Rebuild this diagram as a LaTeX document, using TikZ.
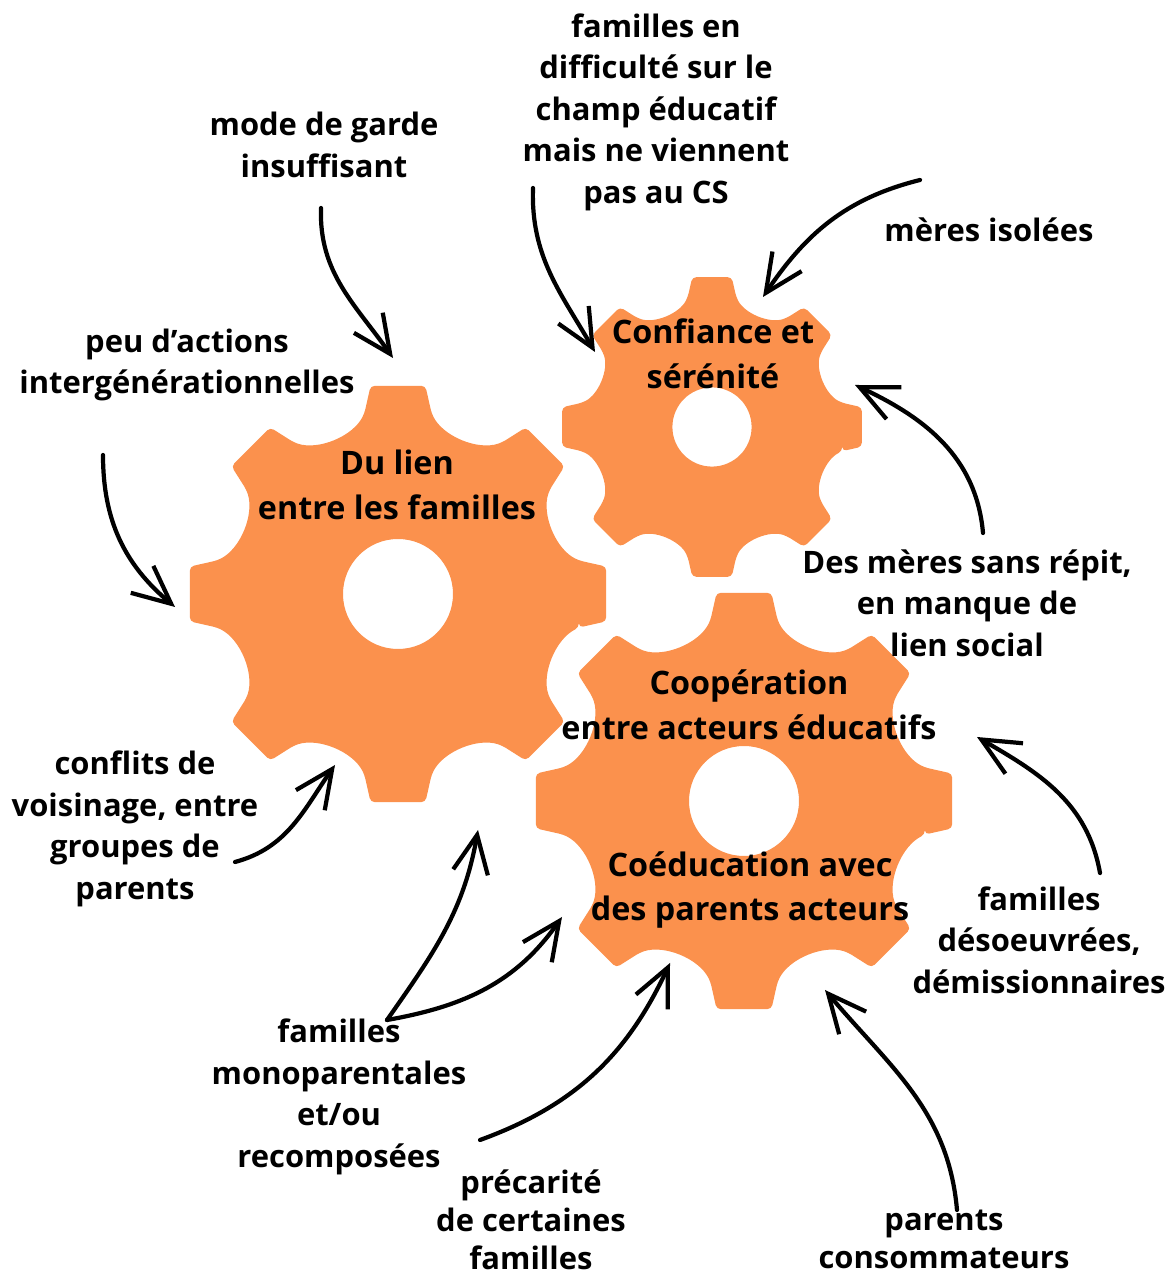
\documentclass[tikz,border=0pt]{standalone}
\usepackage{fontspec}
\setmainfont{Open Sans}
\usetikzlibrary{positioning,arrows.meta,calc}
\definecolor{gearorange}{HTML}{FB914D}
\tikzset{
    lbl/.style = {
        align=center,
        inner sep=0pt,
        font=\bfseries\fontsize{22}{29.5}\selectfont
    },
    gtext/.style = {
        lbl,
        font=\bfseries\fontsize{23}{32}\selectfont
    },
    curvy/.style = {
        -{Straight Barb[length=27pt,width=25pt]},
        line width=3pt,
        line cap=round
    },
    gear/.pic = {
        \fill[gearorange, even odd rule, rounded corners=3pt] (-10.5:184)
            \foreach \a in {0,45,...,315} {
                -- (\a-7.5:210) -- (\a+7.5:210) -- (\a+10.5:184)
                .. controls (\a+16:164) and (\a+29:164) .. (\a+34.5:184)
            } -- cycle
            (0,0) circle (55);
    }
}

\begin{document}
\begin{tikzpicture}[x=0.025cm, y=0.025cm]
            \useasboundingbox (0,0) rectangle (1165,1276);

            % gears
            \coordinate (g1) at (398,682);
            \coordinate (g2) at (712,849);
            \coordinate (g3) at (744,475);
            \pic at (g1) {gear};
            \pic[scale=0.72] at (g2) {gear};
            \pic at (g3) {gear};

            \node[gtext] (lien) at ($(g1)+(-1,109)$) {Du lien\\entre les familles};
            \node[gtext] (conf) at ($(g2)+(1,73)$) {Confiance et\\sérénité};
            \node[gtext] (coop) at ($(g3)+(5,96)$) {Coopération\\entre acteurs éducatifs};
            \node[gtext] (coeduc) at ($(g3)+(6,-89)$) {Coéducation avec\\des parents acteurs};

            % causes
            \node[lbl] (garde) at (324,1131) {mode de garde\\insuffisant};
            \node[lbl] (difficulte) at (656,1164) {familles en\\difficulté sur le\\champ éducatif\\mais ne viennent\\pas au CS};
            \node[lbl] (isolees) at (989,1046) {mères isolées};
            \node[lbl] (actions) at (187,911) {peu d’actions\\intergénérationnelles};
            \node[lbl] (repit) at (967,673) {Des mères sans répit,\\en manque de\\lien social};
            \node[lbl] (conflits) at (135,447) {conflits de\\voisinage, entre\\groupes de\\parents};
            \node[lbl] (desoeuvrees) at (1039,336) {familles\\désoeuvrées,\\démissionnaires};
            \node[lbl] (mono) at (339,179) {familles\\monoparentales\\et/ou\\recomposées};
            \node[lbl, font=\bfseries\fontsize{22}{27}\selectfont] (precarite) at (531,56) {précarité\\de certaines\\familles};
            \node[lbl, font=\bfseries\fontsize{22}{27}\selectfont] (consom) at (944,37) {parents\\consommateurs};

            % arrow tips
            \coordinate (t-garde) at (393,918);
            \coordinate (t-difficulte) at (595,924);
            \coordinate (t-isolees) at (763,979);
            \coordinate (t-actions) at (175,669);
            \coordinate (t-repit) at (855,891);
            \coordinate (t-desoeuvrees) at (977,539);
            \coordinate (t-consom) at (825,286);
            \coordinate (t-conflits) at (335,511);
            \coordinate (t-mono1) at (478,446);
            \coordinate (t-mono2) at (562,359);
            \coordinate (t-precarite) at (670,313);

            \draw[curvy] ($(garde)+(-3,-63)$) to[out=268,in=125] (t-garde);
            \draw[curvy] ($(difficulte)+(-123,-76)$) to[out=268,in=120] (t-difficulte);
            \draw[curvy] ($(isolees)+(-69,50)$) to[out=194,in=56] (t-isolees);
            \draw[curvy] ($(actions)+(-84,-90)$) to[out=270,in=140] (t-actions);
            \draw[curvy] ($(repit)+(16,70)$) to[out=95,in=-25] (t-repit);
            \draw[curvy] ($(desoeuvrees)+(61,67)$) to[out=100,in=-30] (t-desoeuvrees);
            \draw[curvy] ($(consom)+(13,29)$) to[out=95,in=-50] (t-consom);
            \draw[curvy] ($(conflits)+(100,-33)$) to[out=15,in=-125] (t-conflits);
            \draw[curvy] ($(mono)+(48,77)$) to[out=55,in=-100] (t-mono1);
            \draw[curvy] ($(mono)+(48,77)$) to[out=10,in=-125] (t-mono2);
            \draw[curvy] ($(precarite)+(-51,80)$) to[out=20,in=-115] (t-precarite);

        \end{tikzpicture}
\end{document}
